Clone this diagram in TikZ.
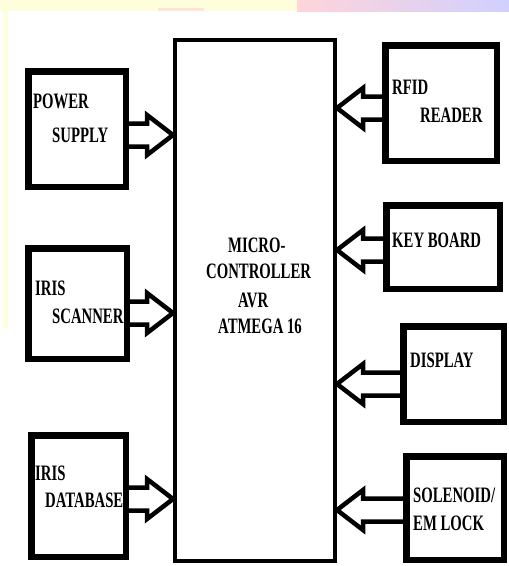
\documentclass[tikz,border=0pt]{standalone}
\usepackage{fontspec}
\newfontfamily\blkfont[FakeStretch=0.67]{Liberation Serif}
\usetikzlibrary{calc}

\definecolor{yellowband}{HTML}{FFFEDC}
\definecolor{pinkband}{HTML}{FFD4DA}
\definecolor{lilacband}{HTML}{ECCFEA}
\definecolor{blueband}{HTML}{D0D0FE}
\definecolor{peachband}{HTML}{FFE4D2}

\def\shafthalf{11.5pt}
\def\headhalf{20pt}
\def\headlen{26pt}

\newcommand{\fatarrow}[3]{%
  \draw[fatarr] let \p1=($(#1)+(0,#3)$), \p2=(#2), \n1={sign(\x2-\x1)} in
    (\x1,\y1+\shafthalf) -- (\x2-\n1*\headlen,\y1+\shafthalf) -- (\x2-\n1*\headlen,\y1+\headhalf)
    -- (\x2,\y1) -- (\x2-\n1*\headlen,\y1-\headhalf) -- (\x2-\n1*\headlen,\y1-\shafthalf) -- (\x1,\y1-\shafthalf);}

\begin{document}
\begin{tikzpicture}[x=1pt,y=-1pt,
  blk/.style={draw, line width=6.5pt, inner sep=0pt},
  fatarr/.style={line width=4.5pt, line join=miter},
  lbl/.style={inner sep=0pt, anchor=base west, font=\blkfont\bfseries\fontsize{22}{26}\selectfont}]

\useasboundingbox (0,0) rectangle (509,566);

\fill[yellowband] (0,0) rectangle (297,11);
\shade[left color=pinkband, middle color=lilacband, right color=blueband] (297,0) rectangle (509,11);
\fill[yellowband] (3,11) rectangle (8,328);
\fill[peachband] (158,8) rectangle (204,11);

\node[draw, line width=4pt, inner sep=0pt, minimum width=160pt, minimum height=521pt] (mcu) at (255,300.5) {};

\node[blk, minimum width=97.5pt, minimum height=115.5pt] (ps) at (77,129) {};
\node[blk, minimum width=98.5pt, minimum height=110.5pt] (scan) at (77.5,303.5) {};
\node[blk, minimum width=94.5pt, minimum height=121.5pt] (dbase) at (78.5,496) {};
\node[blk, minimum width=111.5pt, minimum height=115.5pt] (rfid) at (441,103) {};
\node[blk, minimum width=113.5pt, minimum height=83.5pt] (kbd) at (443,247) {};
\node[blk, minimum width=100.5pt, minimum height=95.5pt] (disp) at (453.5,374) {};
\node[blk, minimum width=97.5pt, minimum height=103.5pt] (lock) at (455,508) {};

\fatarrow{ps.east}{mcu.west}{6}
\fatarrow{scan.east}{mcu.west}{9.5}
\fatarrow{dbase.east}{mcu.west}{3}
\fatarrow{rfid.west}{mcu.east}{5}
\fatarrow{kbd.west}{mcu.east}{3}
\fatarrow{disp.west}{mcu.east}{10}
\fatarrow{lock.west}{mcu.east}{2}

\node[lbl] (psA) at (33,108) {POWER};
\node[lbl] (psB) at (52,142) {SUPPLY};
\node[lbl] (scanA) at (35,295) {IRIS};
\node[lbl] (scanB) at (52,323) {SCANNER};
\node[lbl] (dbaseA) at (35,480) {IRIS};
\node[lbl] (dbaseB) at (45,507) {DATABASE};
\node[lbl] (rfidA) at (392,94) {RFID};
\node[lbl] (rfidB) at (420,122) {READER};
\node[lbl] (kbdA) at (392,247) {KEY BOARD};
\node[lbl] (dispA) at (410,367) {DISPLAY};
\node[lbl] (lockA) at (413,502) {SOLENOID/};
\node[lbl] (lockB) at (413,530) {EM LOCK};
\node[lbl] (mcuA) at (228,252) {MICRO-};
\node[lbl] (mcuB) at (206,278) {CONTROLLER};
\node[lbl] (mcuC) at (238,307) {AVR};
\node[lbl] (mcuD) at (218,333) {ATMEGA 16};
\end{tikzpicture}
\end{document}
